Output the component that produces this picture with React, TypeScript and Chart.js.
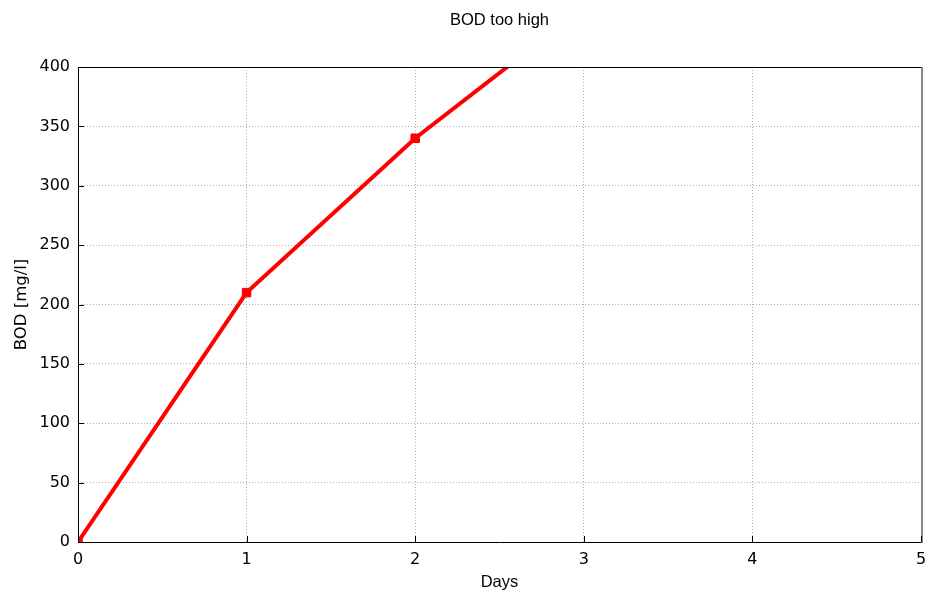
import React, { useEffect, useRef } from "react";
import { Chart, registerables } from "chart.js";

Chart.register(...registerables);

const days = [0, 1, 2, 3];
const bod = [0, 210, 340, 450];
const xTicks = [0, 1, 2, 3, 4, 5];
const yTicks = [0, 50, 100, 150, 200, 250, 300, 350, 400];

const FONT = "'DejaVu Sans', sans-serif";
const TFONT = "'Liberation Sans', Arial, sans-serif";

const frame = {
  id: "frame",
  afterDraw(chart: any) {
    const { ctx, chartArea: a, scales } = chart;
    ctx.save();
    ctx.lineWidth = 1;
    ctx.strokeStyle = "#000";
    ctx.beginPath();
    ctx.moveTo(a.right, a.top + 0.5);
    ctx.lineTo(a.left + 0.5, a.top + 0.5);
    ctx.lineTo(a.left + 0.5, a.bottom + 0.5);
    ctx.lineTo(a.right, a.bottom + 0.5);
    ctx.stroke();
    ctx.strokeStyle = "#888";
    ctx.lineWidth = 2;
    ctx.beginPath();
    ctx.moveTo(a.right + 1, a.top);
    ctx.lineTo(a.right + 1, a.bottom + 1);
    ctx.stroke();
    ctx.strokeStyle = "#000";
    ctx.lineWidth = 1;
    ctx.beginPath();
    for (const v of xTicks) {
      const x = Math.round(scales.x.getPixelForValue(v)) + 0.5;
      ctx.moveTo(x, a.bottom);
      ctx.lineTo(x, a.bottom - 6);
    }
    for (const v of yTicks) {
      const y = Math.round(scales.y.getPixelForValue(v)) + 0.5;
      ctx.moveTo(a.left, y);
      ctx.lineTo(a.left + 6, y);
    }
    ctx.stroke();
    ctx.restore();
  },
};

export default function App() {
  const ref = useRef<HTMLCanvasElement>(null);
  useEffect(() => {
    document.body.style.margin = "0";
    const chart = new Chart(ref.current!, {
      type: "scatter",
      data: {
        datasets: [
          {
            data: days.map((d, i) => ({ x: d, y: bod[i] })),
            showLine: true,
            borderColor: "#ff0000",
            backgroundColor: "#ff0000",
            borderWidth: 4,
            pointStyle: "rect",
            pointRadius: 6,
            pointBorderWidth: 1,
            tension: 0,
          },
        ],
      },
      options: {
        animation: false,
        responsive: false,
        layout: { padding: { left: 12, right: 14, top: 0, bottom: 2 } },
        plugins: {
          legend: { display: false },
          tooltip: { enabled: false },
          title: {
            display: true,
            text: "BOD too high",
            color: "#000",
            fullSize: false,
            font: { family: TFONT, size: 16.5, weight: "normal" },
            padding: { top: 11, bottom: 36.2 },
          },
        },
        scales: {
          x: {
            type: "linear",
            min: 0,
            max: 5,
            afterBuildTicks: (s: any) => {
              s.ticks = xTicks.map((v) => ({ value: v }));
            },
            ticks: {
              color: "#000",
              font: { family: FONT, size: 16 },
              padding: 8,
              maxRotation: 0,
            },
            grid: {
              drawTicks: false,
              color: "#b0b0b0",
            },
            border: { display: false, dash: [1, 2] },
            title: {
              display: true,
              text: "Days",
              color: "#000",
              font: { family: TFONT, size: 16.5 },
              padding: { top: 1, bottom: 0 },
            },
            afterFit: (s: any) => {
              s.height = 50;
            },
          },
          y: {
            min: 0,
            max: 400,
            afterBuildTicks: (s: any) => {
              s.ticks = yTicks.map((v) => ({ value: v }));
            },
            ticks: {
              color: "#000",
              font: { family: FONT, size: 16 },
              padding: 8,
            },
            grid: {
              drawTicks: false,
              color: "#b0b0b0",
            },
            border: { display: false, dash: [1, 2] },
            title: {
              display: true,
              text: "BOD [mg/l]",
              color: "#000",
              font: { family: FONT, size: 16.5 },
              padding: { top: 0, bottom: 2 },
            },
            afterFit: (s: any) => {
              s.width = 66;
            },
          },
        },
      },
      plugins: [frame],
    });
    return () => chart.destroy();
  }, []);
  return (
    <div style={{ position: "absolute", left: 0, top: 0, width: 935, height: 594 }}>
      <canvas ref={ref} width={935} height={594} />
    </div>
  );
}
